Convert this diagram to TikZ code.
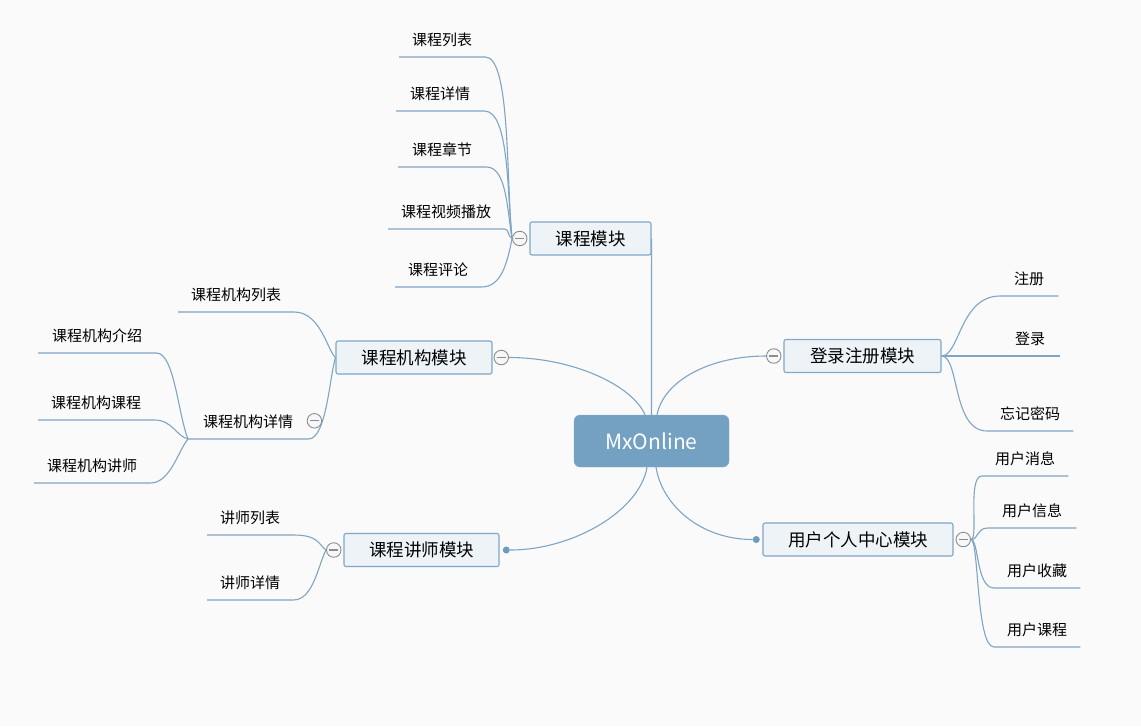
\documentclass[tikz,border=0pt]{standalone}
\usepackage{fontspec}
\newfontfamily\cjk{Noto Sans CJK SC}
\usetikzlibrary{positioning}
\definecolor{bgcol}{HTML}{FAFAFA}
\definecolor{rootfill}{HTML}{74A1C2}
\definecolor{boxfill}{HTML}{EEF3F7}
\definecolor{boxline}{HTML}{7FA7C8}
\definecolor{branchcol}{HTML}{7EA5C5}
\definecolor{foldline}{HTML}{8C8C8C}
\definecolor{foldfill}{HTML}{F7F7F7}
\definecolor{dotcol}{HTML}{6D9CC0}

\begin{document}
\begin{tikzpicture}[x=1pt, y=-1pt,
        branch/.style={draw=branchcol, line width=1.1pt},
        root/.style={fill=rootfill, draw=rootfill!85!white, rounded corners=6pt, minimum width=155pt, minimum height=52pt, text=white, font=\cjk\fontsize{21pt}{24pt}\selectfont},
        module/.style={draw=boxline, fill=boxfill, line width=1.1pt, rounded corners=2pt, minimum height=33pt, minimum width=#1, font=\cjk\fontsize{17.5pt}{20pt}\selectfont},
        leaf/.style={anchor=south west, inner xsep=0pt, inner ysep=8pt, text height=11pt, text depth=3pt, minimum width=#1, font=\cjk\fontsize{15pt}{17pt}\selectfont},
        fold/.style={circle, draw=foldline, fill=foldfill, line width=0.9pt, minimum size=14.5pt, inner sep=0pt,
            path picture={\draw[foldline, line width=1.2pt] ([xshift=-4.5pt]path picture bounding box.center) -- ([xshift=4.5pt]path picture bounding box.center);}},
        knot/.style={circle, fill=dotcol, minimum size=7pt, inner sep=0pt}]
    \path[use as bounding box, fill=bgcol] (0, 0) rectangle (1141, 726);

    \node[root] (root) at (651.5, 441) {MxOnline};

    \node[module=121pt] (mkc) at (590.5, 238.5) {课程模块};
    \node[module=157pt] (mdl) at (862.5, 356) {登录注册模块};
    \node[module=156pt] (mjg) at (414, 357.5) {课程机构模块};
    \node[module=155pt] (mjs) at (421.5, 550) {课程讲师模块};
    \node[module=190pt] (myh) at (858, 539.5) {用户个人中心模块};

    \node[leaf=86pt] (kl) at (399, 57) {课程列表};
    \node[leaf=88pt] (kx) at (396, 111) {课程详情};
    \node[leaf=88pt] (kz) at (398, 167) {课程章节};
    \node[leaf=116pt] (ks) at (388, 229) {课程视频播放};
    \node[leaf=86pt] (kp) at (395, 287) {课程评论};

    \node[leaf=58pt] (zc) at (1000, 296) {注册};
    \node[leaf=60pt] (dlu) at (1000, 356) {登录};
    \node[leaf=86pt] (wj) at (987, 431) {忘记密码};

    \node[leaf=116pt] (jl) at (178, 312) {课程机构列表};
    \node[leaf=120pt] (jx) at (188, 439) {课程机构详情};
    \node[leaf=118pt] (jj) at (38, 353) {课程机构介绍};
    \node[leaf=116pt] (jk) at (38, 420) {课程机构课程};
    \node[leaf=116pt] (jt) at (34, 483) {课程机构讲师};

    \node[leaf=86pt] (sl) at (207, 535) {讲师列表};
    \node[leaf=86pt] (sx) at (207, 600) {讲师详情};

    \node[leaf=86pt] (yx) at (982, 476) {用户消息};
    \node[leaf=88pt] (yi) at (988, 528) {用户信息};
    \node[leaf=86pt] (ys) at (994, 588) {用户收藏};
    \node[leaf=86pt] (yk) at (994, 647) {用户课程};

    \node[fold, left=2pt of mkc] (kcf) {};
    \node[fold, left=2pt of mdl] (dlf) {};
    \node[fold, right=1pt of mjg] (jgf) {};
    \node[fold, left=2pt of mjs] (jsf) {};
    \node[fold, right=2pt of myh] (yhf) {};
    \node[fold] (jxf) at ([xshift=6pt, yshift=3pt]jx.east) {};
    \node[knot, right=3pt of mjs] (jsd) {};
    \node[knot, left=2.5pt of myh] (yhd) {};

    \draw[branch] (root.north) -- (mkc.east);
    \draw[branch] ([xshift=5.5pt]root.north) .. controls +(7, -35) and +(-55, 0) .. (dlf.west);
    \draw[branch] ([xshift=-6.5pt]root.north) .. controls +(-13, -30) and +(63, 0) .. (jgf.east);
    \draw[branch] ([xshift=-4.5pt]root.south) .. controls +(-7, 43) and +(64, 0) .. (jsd.east);
    \draw[branch] ([xshift=4.5pt]root.south) .. controls +(6, 38) and +(-52, 0) .. (yhd.west);

    \draw[branch] (kl.south west) -- (kl.south east) .. controls +(25, 0) and +(-6, -60) .. (kcf.west);
    \draw[branch] (kx.south west) -- (kx.south east) .. controls +(25, 0) and +(-5, -45) .. (kcf.west);
    \draw[branch] (kz.south west) -- (kz.south east) .. controls +(20, 0) and +(-5, -30) .. (kcf.west);
    \draw[branch] (ks.south west) -- (ks.south east) .. controls +(5, 0) and +(-5, -3) .. (kcf.west);
    \draw[branch] (kp.south west) -- (kp.south east) .. controls +(20, 0) and +(-5, 25) .. (kcf.west);

    \draw[branch] (mdl.east) .. controls +(18, 0) and +(-40, 0) .. (zc.south west) -- (zc.south east);
    \draw[branch] (mdl.east) -- (mdl.east -| dlu.south east);
    \draw[branch] (mdl.east) .. controls +(18, 0) and +(-35, 0) .. (wj.south west) -- (wj.south east);

    \draw[branch] (jl.south west) -- (jl.south east) .. controls +(26, 0) and +(-8, -7) .. (mjg.west);
    \draw[branch] (jx.south west) -- (jx.south east) .. controls +(18, 0) and +(-6, 20) .. (mjg.west);
    \draw[branch] (jj.south west) -- (jj.south east) .. controls +(18, 0) and +(-10, -25) .. (jx.south west);
    \draw[branch] (jk.south west) -- (jk.south east) .. controls +(18, 0) and +(-12, -3) .. (jx.south west);
    \draw[branch] (jt.south west) -- (jt.south east) .. controls +(20, 0) and +(-10, 12) .. (jx.south west);

    \draw[branch] (sl.south west) -- (sl.south east) .. controls +(25, 0) and +(-8, -6) .. (jsf.west);
    \draw[branch] (sx.south west) -- (sx.south east) .. controls +(20, 0) and +(-8, 15) .. (jsf.west);

    \draw[branch] (yhf.east) .. controls +(8, 0) and +(-15, 0) .. (yx.south west) -- (yx.south east);
    \draw[branch] (yhf.east) .. controls +(8, 0) and +(-12, 0) .. (yi.south west) -- (yi.south east);
    \draw[branch] (yhf.east) .. controls +(8, 0) and +(-18, 0) .. (ys.south west) -- (ys.south east);
    \draw[branch] (yhf.east) .. controls +(8, 0) and +(-18, 0) .. (yk.south west) -- (yk.south east);
\end{tikzpicture}
\end{document}
